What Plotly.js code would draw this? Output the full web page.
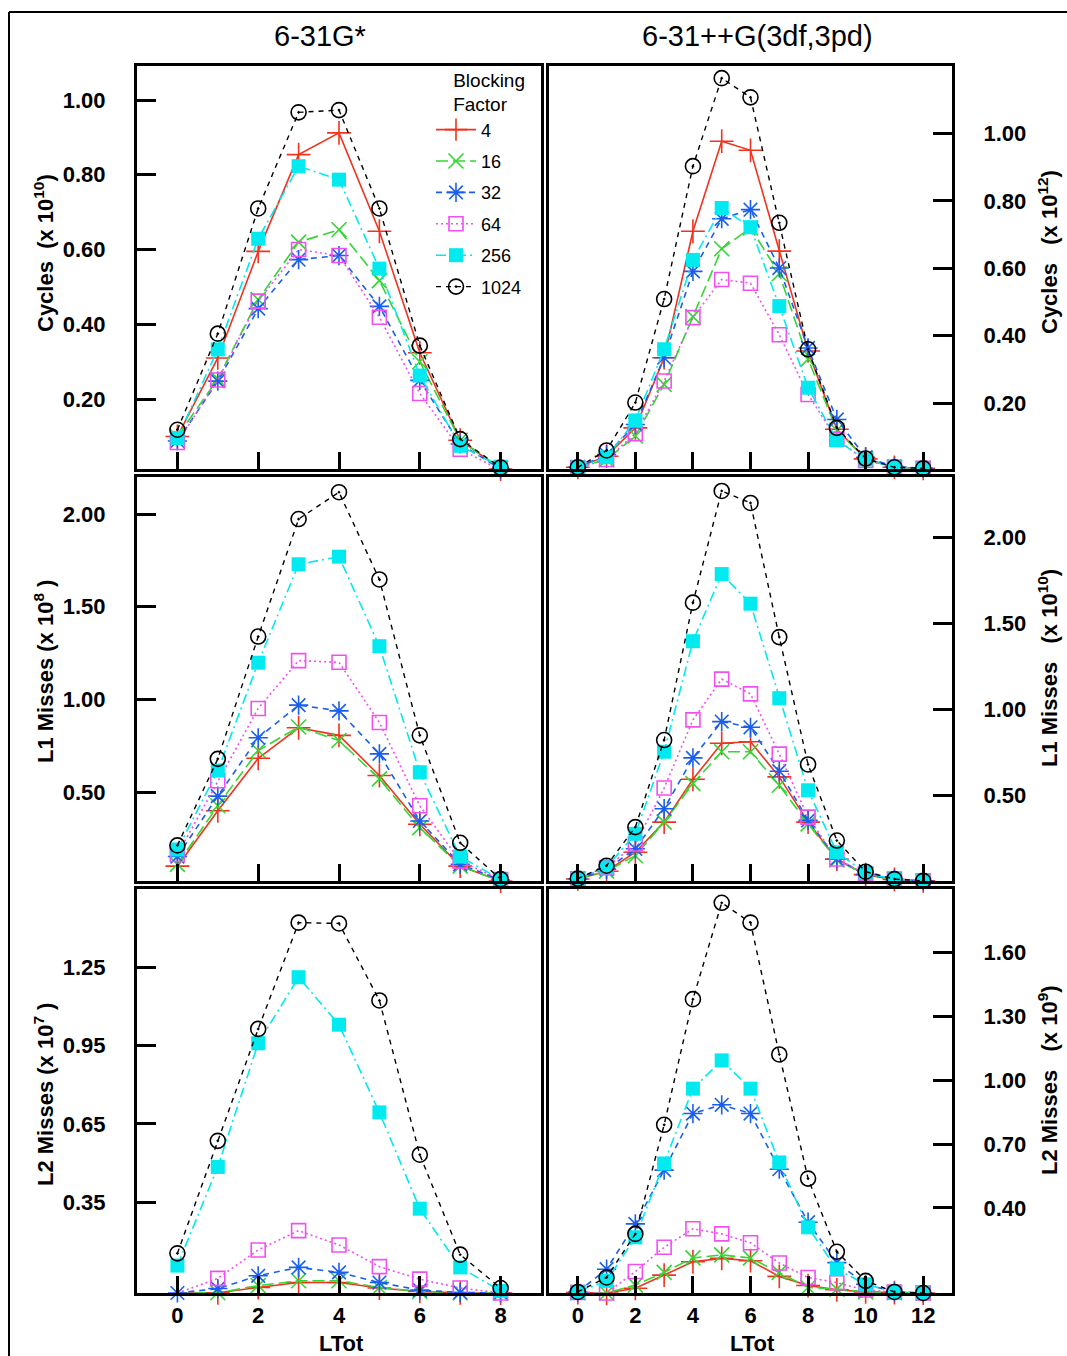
<!DOCTYPE html>
<html>
<head>
<meta charset="utf-8">
<script src="https://cdn.plot.ly/plotly-3.0.1.min.js"></script>
<style>html,body{margin:0;padding:0;background:#fff;} #chart{width:1067px;height:1356px;}</style>
</head>
<body>
<div id="chart"></div>
<script>
// ---------- DATA ----------
const blockingFactors = ['4', '16', '32', '64', '256', '1024'];
const ltotSmall = [0, 1, 2, 3, 4, 5, 6, 7, 8];                       // 6-31G*
const ltotLarge = [0, 1, 2, 3, 4, 5, 6, 7, 8, 9, 10, 11, 12];        // 6-31++G(3df,3pd)

// Cycles, 6-31G* (x 1e10)
const cycA_4    = [0.100, 0.310, 0.595, 0.854, 0.912, 0.649, 0.324, 0.090, 0.013];
const cycA_16   = [0.100, 0.254, 0.466, 0.620, 0.653, 0.517, 0.300, 0.090, 0.015];
const cycA_32   = [0.088, 0.248, 0.442, 0.573, 0.584, 0.448, 0.250, 0.080, 0.013];
const cycA_64   = [0.084, 0.251, 0.462, 0.600, 0.584, 0.419, 0.215, 0.066, 0.010];
const cycA_256  = [0.096, 0.333, 0.629, 0.823, 0.787, 0.549, 0.263, 0.075, 0.019];
const cycA_1024 = [0.118, 0.375, 0.710, 0.967, 0.973, 0.710, 0.343, 0.093, 0.017];

// Cycles, 6-31++G(3df,3pd) (x 1e12)
const cycB_4    = [0.010, 0.043, 0.127, 0.335, 0.710, 0.977, 0.950, 0.651, 0.355, 0.123, 0.035, 0.010, 0.007];
const cycB_16   = [0.010, 0.033, 0.103, 0.256, 0.457, 0.658, 0.720, 0.584, 0.331, 0.120, 0.035, 0.010, 0.007];
const cycB_32   = [0.010, 0.048, 0.137, 0.335, 0.591, 0.747, 0.774, 0.601, 0.364, 0.152, 0.040, 0.012, 0.007];
const cycB_64   = [0.008, 0.033, 0.110, 0.266, 0.454, 0.567, 0.556, 0.403, 0.226, 0.093, 0.030, 0.010, 0.007];
const cycB_256  = [0.010, 0.040, 0.149, 0.360, 0.625, 0.779, 0.722, 0.488, 0.246, 0.090, 0.033, 0.010, 0.007];
const cycB_1024 = [0.010, 0.060, 0.202, 0.509, 0.903, 1.164, 1.107, 0.735, 0.360, 0.127, 0.036, 0.010, 0.007];

// L1 misses, 6-31G* (x 1e8)
const l1A_4    = [0.100, 0.399, 0.682, 0.847, 0.806, 0.589, 0.326, 0.100, 0.020];
const l1A_16   = [0.110, 0.426, 0.724, 0.851, 0.778, 0.571, 0.308, 0.100, 0.020];
const l1A_32   = [0.152, 0.478, 0.793, 0.969, 0.938, 0.706, 0.344, 0.110, 0.025];
const l1A_64   = [0.163, 0.561, 0.951, 1.209, 1.200, 0.875, 0.426, 0.127, 0.028];
const l1A_256  = [0.190, 0.616, 1.198, 1.729, 1.770, 1.287, 0.607, 0.152, 0.028];
const l1A_1024 = [0.212, 0.679, 1.339, 1.973, 2.118, 1.647, 0.806, 0.226, 0.030];

// L1 misses, 6-31++G(3df,3pd) (x 1e10)
const l1B_4    = [0.015, 0.060, 0.170, 0.345, 0.594, 0.803, 0.812, 0.608, 0.345, 0.130, 0.040, 0.012, 0.004];
const l1B_16   = [0.015, 0.060, 0.150, 0.345, 0.569, 0.754, 0.754, 0.559, 0.335, 0.125, 0.040, 0.012, 0.004];
const l1B_32   = [0.015, 0.072, 0.190, 0.423, 0.718, 0.929, 0.896, 0.641, 0.355, 0.131, 0.040, 0.012, 0.004];
const l1B_64   = [0.015, 0.080, 0.218, 0.543, 0.939, 1.176, 1.090, 0.740, 0.374, 0.131, 0.045, 0.014, 0.004];
const l1B_256  = [0.017, 0.082, 0.277, 0.754, 1.396, 1.786, 1.614, 1.065, 0.530, 0.170, 0.049, 0.014, 0.004];
const l1B_1024 = [0.017, 0.092, 0.316, 0.822, 1.620, 2.269, 2.199, 1.420, 0.680, 0.238, 0.057, 0.014, 0.004];

// L2 misses, 6-31G* (x 1e7)
const l2A_4    = [0.001, 0.003, 0.023, 0.042, 0.042, 0.021, 0.008, 0.003, 0.002];
const l2A_16   = [0.001, 0.003, 0.030, 0.049, 0.049, 0.023, 0.008, 0.003, 0.002];
const l2A_32   = [0.002, 0.019, 0.068, 0.100, 0.081, 0.042, 0.013, 0.004, 0.002];
const l2A_64   = [0.001, 0.058, 0.167, 0.241, 0.186, 0.103, 0.055, 0.021, 0.002];
const l2A_256  = [0.107, 0.485, 0.959, 1.212, 1.030, 0.694, 0.325, 0.100, 0.010];
const l2A_1024 = [0.154, 0.585, 1.014, 1.421, 1.418, 1.123, 0.532, 0.149, 0.021];

// L2 misses, 6-31++G(3df,3pd) (x 1e9)
const l2B_4    = [0.002, 0.000, 0.022, 0.084, 0.147, 0.163, 0.152, 0.078, 0.035, 0.015, 0.005, 0.002, 0.000];
const l2B_16   = [0.002, 0.000, 0.037, 0.097, 0.165, 0.179, 0.165, 0.097, 0.026, 0.018, 0.005, 0.002, 0.000];
const l2B_32   = [0.005, 0.112, 0.325, 0.578, 0.844, 0.885, 0.844, 0.582, 0.333, 0.143, 0.041, 0.005, 0.000];
const l2B_64   = [0.002, 0.000, 0.101, 0.215, 0.302, 0.278, 0.236, 0.141, 0.073, 0.049, 0.014, 0.005, 0.000];
const l2B_256  = [0.005, 0.057, 0.262, 0.609, 0.961, 1.094, 0.961, 0.614, 0.309, 0.112, 0.041, 0.005, 0.000];
const l2B_1024 = [0.005, 0.073, 0.278, 0.791, 1.382, 1.835, 1.742, 1.122, 0.538, 0.194, 0.057, 0.005, 0.000];

// tick values
const xTicksSmall = [0, 2, 4, 6, 8];
const xTicksLarge = [0, 2, 4, 6, 8, 10, 12];
const yTicksCyc = [0.20, 0.40, 0.60, 0.80, 1.00];
const yTicksL1  = [0.50, 1.00, 1.50, 2.00];
const yTicksL2A = [0.35, 0.65, 0.95, 1.25];
const yTicksL2B = [0.40, 0.70, 1.00, 1.30, 1.60];

// ---------- STYLES ----------
const FONT = 'Liberation Sans, Arial, Helvetica, sans-serif';
const styles = {
  '4':    {color: '#f2321f', dash: 'solid',             symbol: 'cross-thin-open', size: 17, lw: 1.6},
  '16':   {color: '#33d633', dash: '12px,5px',          symbol: 'x-thin-open',     size: 15, lw: 1.6},
  '32':   {color: '#1a5ef0', dash: '6px,5px',           symbol: 'asterisk-open',   size: 16, lw: 1.6},
  '64':   {color: '#f050f0', dash: '2px,3px',           symbol: 'square-open',     size: 14, lw: 1.6},
  '256':  {color: '#00eaf0', dash: '10px,4px,2px,4px',  symbol: 'square',          size: 14, lw: 1.6},
  '1024': {color: '#000000', dash: '5px,5px',           symbol: 'circle-open-dot', size: 15, lw: 1.4}
};

const panels = [
  {x: ltotSmall, ys: [cycA_4, cycA_16, cycA_32, cycA_64, cycA_256, cycA_1024], ax: ''},
  {x: ltotLarge, ys: [cycB_4, cycB_16, cycB_32, cycB_64, cycB_256, cycB_1024], ax: '2'},
  {x: ltotSmall, ys: [l1A_4, l1A_16, l1A_32, l1A_64, l1A_256, l1A_1024], ax: '3'},
  {x: ltotLarge, ys: [l1B_4, l1B_16, l1B_32, l1B_64, l1B_256, l1B_1024], ax: '4'},
  {x: ltotSmall, ys: [l2A_4, l2A_16, l2A_32, l2A_64, l2A_256, l2A_1024], ax: '5'},
  {x: ltotLarge, ys: [l2B_4, l2B_16, l2B_32, l2B_64, l2B_256, l2B_1024], ax: '6'}
];

const traces = [];
panels.forEach((p, pi) => {
  blockingFactors.forEach((bf, i) => {
    const s = styles[bf];
    const filled = s.symbol === 'square';
    traces.push({
      type: 'scatter', mode: 'lines+markers',
      x: p.x, y: p.ys[i],
      xaxis: 'x' + p.ax, yaxis: 'y' + p.ax,
      name: bf, legendgroup: 'bf' + bf, showlegend: pi === 0,
      cliponaxis: false,
      line: {color: s.color, dash: s.dash, width: s.lw},
      marker: {symbol: s.symbol, size: s.size, color: s.color,
               line: {color: s.color, width: filled ? 0 : 1.6}}
    });
  });
});

// ---------- LAYOUT ----------
const W = 1067, H = 1356;
const px = v => v / W, py = v => 1 - v / H;
const colL = [px(137), px(541)], colR = [px(549), px(952)];
const rowT = [py(469), py(66)], rowM = [py(881), py(477)], rowB = [py(1293), py(889)];

const tickFont = {family: FONT, size: 22, color: '#000', weight: 'bold'};
function xax(domain, anchor, tickvals, range, labels) {
  return {domain, anchor, range, tickvals, ticks: 'inside', ticklen: 17, tickwidth: 3, tickcolor: '#000',
    showticklabels: labels, tickfont: tickFont, ticklabelstandoff: 1,
    showline: true, mirror: true, linewidth: 3, linecolor: '#000',
    showgrid: false, zeroline: false, fixedrange: true};
}
function yax(domain, anchor, tickvals, range, side) {
  return {domain, anchor, range, tickvals, side, tickformat: '.2f',
    ticks: 'inside', ticklen: 19, tickwidth: 3, tickcolor: '#000',
    tickfont: tickFont, ticklabelstandoff: 24,
    showline: true, mirror: true, linewidth: 3, linecolor: '#000',
    showgrid: false, zeroline: false, fixedrange: true};
}

const titleFont = {family: FONT, size: 22, color: '#000', weight: 'bold'};
const ann = (text, x, y, font, angle) => ({text, x: px(x), y: py(y), xref: 'paper', yref: 'paper',
  showarrow: false, xanchor: 'center', yanchor: 'middle', font, textangle: angle || 0});

const layout = {
  width: W, height: H,
  margin: {l: 0, r: 0, t: 0, b: 0},
  paper_bgcolor: '#fff', plot_bgcolor: '#fff',
  font: {family: FONT, color: '#000'},
  xaxis:  xax(colL, 'y',  xTicksSmall, [-1, 9], false),
  yaxis:  yax(rowT, 'x',  yTicksCyc, [0.013, 1.091], 'left'),
  xaxis2: xax(colR, 'y2', xTicksLarge, [-1, 13], false),
  yaxis2: yax(rowT, 'x2', yTicksCyc, [0.005, 1.2], 'right'),
  xaxis3: xax(colL, 'y3', xTicksSmall, [-1, 9], false),
  yaxis3: yax(rowM, 'x3', yTicksL1, [0.02, 2.2], 'left'),
  xaxis4: xax(colR, 'y4', xTicksLarge, [-1, 13], false),
  yaxis4: yax(rowM, 'x4', yTicksL1, [0.003, 2.35], 'right'),
  xaxis5: xax(colL, 'y5', xTicksSmall, [-1, 9], true),
  yaxis5: yax(rowB, 'x5', yTicksL2A, [0.002, 1.55], 'left'),
  xaxis6: xax(colR, 'y6', xTicksLarge, [-1, 13], true),
  yaxis6: yax(rowB, 'x6', yTicksL2B, [0.0, 1.9], 'right'),
  showlegend: true,
  legend: {
    x: px(527), y: py(62), xanchor: 'right', yanchor: 'top',
    bgcolor: 'rgba(0,0,0,0)', borderwidth: 0,
    font: {family: FONT, size: 18, color: '#000'},
    title: {text: 'Blocking<br>Factor', side: 'top right', font: {family: FONT, size: 19, color: '#000'}},
    itemwidth: 40, tracegroupgap: 5, traceorder: 'grouped'
  },
  annotations: [
    ann('6-31G*', 320, 36, {family: FONT, size: 29, color: '#000'}),
    ann('6-31++G(3df,3pd)', 757, 36, {family: FONT, size: 29, color: '#000'}),
    ann('Cycles&nbsp;&nbsp;(x 10<sup>10</sup>)', 44, 253, titleFont, -90),
    ann('Cycles&nbsp;&nbsp;&nbsp;(x 10<sup>12</sup>)', 1048, 252, titleFont, -90),
    ann('L1 Misses (x 10<sup>8</sup> )', 44, 672, titleFont, -90),
    ann('L1 Misses&nbsp;&nbsp;&nbsp;(x 10<sup>10</sup>)', 1048, 668, titleFont, -90),
    ann('L2 Misses (x 10<sup>7</sup> )', 44, 1095, titleFont, -90),
    ann('L2 Misses&nbsp;&nbsp;&nbsp;(x 10<sup>9</sup>)', 1048, 1080, titleFont, -90),
    ann('LTot', 341, 1343, titleFont),
    ann('LTot', 752, 1343, titleFont)
  ],
  shapes: [
    {type: 'line', xref: 'paper', yref: 'paper', x0: px(9), x1: 1, y0: py(12), y1: py(12), line: {color: '#000', width: 2}},
    {type: 'line', xref: 'paper', yref: 'paper', x0: px(9), x1: px(9), y0: py(12), y1: 0, line: {color: '#000', width: 2}}
  ]
};

Plotly.newPlot('chart', traces, layout, {staticPlot: true, displayModeBar: false});
</script>
</body>
</html>
